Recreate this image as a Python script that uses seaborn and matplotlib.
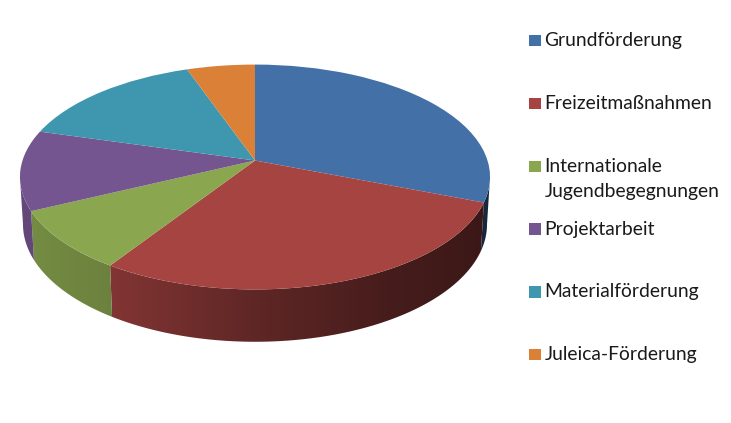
import numpy as np
import seaborn as sns
import matplotlib
matplotlib.use("Agg")
import matplotlib.pyplot as plt
from matplotlib.patches import Rectangle, PathPatch
from matplotlib.path import Path
from matplotlib.transforms import Transform

labels = ['Grundförderung', 'Freizeitmaßnahmen', 'Internationale\nJugendbegegnungen',
          'Projektarbeit', 'Materialförderung', 'Juleica-Förderung']
values = [30.9, 28.3, 8.7, 11.5, 15.2, 5.4]
top_colors = ['#4470A8', '#A64442', '#8AA64F', '#75558F', '#3E96AF', '#DA8137']

K = 0.1467


# Excel style 3D look: the pie circle seen in perspective, far side smaller
class Tilt(Transform):
    input_dims = 2
    output_dims = 2

    def __init__(self, cx, cy, a, b):
        super().__init__()
        self.cx, self.cy, self.a, self.b = cx, cy, a, b

    def transform_non_affine(self, values):
        x, y = np.asarray(values).T
        w = 1 + K * y
        return np.column_stack((self.cx + self.a * x / w, self.cy - self.b * y / w))


sns.set_theme(style='white')
plt.rcParams['font.family'] = ['Lato', 'DejaVu Sans']
palette = sns.color_palette(top_colors)

fig = plt.figure(figsize=(7.31, 4.23), dpi=100)
ax = fig.add_axes([0, 0, 1, 1])

top = Tilt(255, 160.5, 232.5, 110)
bottom = Tilt(255, 207, 229.5, 115)

wedges, _ = ax.pie(values, colors=palette, startangle=90, counterclock=False,
                   wedgeprops=dict(edgecolor='none'))
for w in wedges:
    w.set_transform(top + ax.transData)
    w.set_zorder(3)

# side wall, darker towards the right. Only the part between the two
# silhouette points of the ellipse can be seen
edge = np.degrees(np.arcsin(K))
gx = np.arange(15, 496)
shade = np.interp(gx, [20, 110, 255, 390, 490], [0.85, 0.78, 0.57, 0.42, 0.35])
for w, col in zip(wedges, palette):
    lo, hi = max(w.theta1, -180 + edge), min(w.theta2, -edge)
    if lo >= hi:
        continue
    t = np.radians(np.linspace(lo, hi, 80))
    circle = np.column_stack((np.cos(t), np.sin(t)))
    outline = np.vstack((top.transform(circle), bottom.transform(circle)[::-1]))
    clip = PathPatch(Path(np.vstack((outline, outline[:1])), closed=True),
                     transform=ax.transData, fc='none', ec='none')
    ax.add_patch(clip)
    grad = shade[None, :, None] * np.array(col)[None, None, :]
    im = ax.imshow(grad, extent=(15, 496, 350, 160), aspect='auto', zorder=2,
                   interpolation='bilinear')
    im.set_clip_path(clip)

# legend rows have a fixed pitch, the wrapped label just runs over
for i, (lab, col) in enumerate(zip(labels, palette)):
    yc = 40.5 + 62.8 * i
    ax.add_patch(Rectangle((529, yc - 5.5), 11.5, 11.5, fc=col, ec='none'))
    for j, line in enumerate(lab.split('\n')):
        ax.text(544.5, yc + 5.8 + 24.7 * j, line, fontsize=13.9, color='#1a1a1a',
                va='baseline', ha='left')

ax.set_xlim(0, 731)
ax.set_ylim(423, 0)
ax.set_axis_off()
fig.savefig('out.png', dpi=100, facecolor='white')
